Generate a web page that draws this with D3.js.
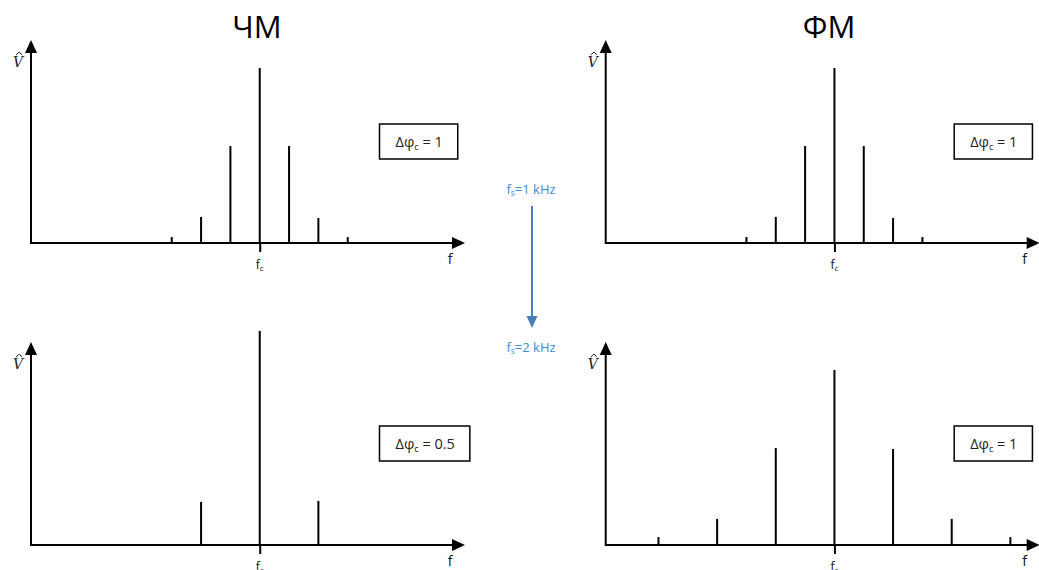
<!DOCTYPE html>
<html><head><meta charset="utf-8">
<script src="https://cdn.jsdelivr.net/npm/d3@7"></script>
<style>body{margin:0;background:#fff;} svg{display:block}</style>
</head><body><svg id="c" width="1039" height="570"></svg>
<script>
// ---- data ----
const columnTitles = ["ЧМ", "ФМ"];
const rateLabels = ["1 kHz", "2 kHz"];
const indexLabels = ["1", "1", "0.5", "1"];          // TL, TR, BL, BR
const offsetsFmTop = [-3, -2, -1, 0, 1, 2, 3];        // kHz from fc
const ampsFmTop    = [0.026, 0.115, 0.427, 0.771, 0.427, 0.11, 0.026];
const offsetsPmTop = [-3, -2, -1, 0, 1, 2, 3];
const ampsPmTop    = [0.026, 0.115, 0.427, 0.771, 0.427, 0.11, 0.026];
const offsetsFmBottom = [-2, 0, 2];
const ampsFmBottom    = [0.19, 0.943, 0.194];
const offsetsPmBottom = [-6, -4, -2, 0, 2, 4, 6];
const ampsPmBottom    = [0.035, 0.115, 0.427, 0.771, 0.423, 0.115, 0.035];
const xDomain = [-7.8, 7.0];
const yDomain = [0, 0.894];

// ---- layout ----
const svg = d3.select("#c");
const colX = [31, 605.7];
const rowY = [243, 545];
const axisLen = 434, yLen = 203;
const sans = "'Open Sans', 'Noto Sans', sans-serif";

const panels = [
  {c:0, r:0, off: offsetsFmTop, amp: ampsFmTop, lab: indexLabels[0]},
  {c:1, r:0, off: offsetsPmTop, amp: ampsPmTop, lab: indexLabels[1]},
  {c:0, r:1, off: offsetsFmBottom, amp: ampsFmBottom, lab: indexLabels[2]},
  {c:1, r:1, off: offsetsPmBottom, amp: ampsPmBottom, lab: indexLabels[3]},
];

panels.forEach(p => {
  const x0 = colX[p.c], base = rowY[p.r];
  const x = d3.scaleLinear().domain(xDomain).range([x0, x0 + axisLen]);
  const y = d3.scaleLinear().domain(yDomain).range([base, base - yLen]);
  const g = svg.append("g");

  // x axis with fc tick
  const xa = g.append("g").attr("transform", `translate(0,${base})`)
    .call(d3.axisBottom(x).tickValues([0]).tickSize(9).tickSizeOuter(0).tickFormat(""));
  xa.selectAll("path.domain").attr("d", `M${x0},0H${x0 + axisLen - 11}`).attr("stroke", "#000").attr("stroke-width", 2);
  xa.selectAll(".tick line").attr("stroke", "#000").attr("stroke-width", 2);
  xa.selectAll(".tick text").remove();
  const xt = x.range()[1];
  g.append("path").attr("d", `M${xt},${base}L${xt - 13},${base - 6}L${xt - 13},${base + 6}Z`).attr("fill", "#000");

  // y axis
  const ya = g.append("g").attr("transform", `translate(${x0},0)`)
    .call(d3.axisLeft(y).tickValues([]).tickSizeOuter(0));
  const yt = y.range()[1];
  ya.selectAll("path.domain").attr("d", `M0,${base + 1}V${yt + 10}`).attr("stroke", "#000").attr("stroke-width", 2);
  g.append("path").attr("d", `M${x0},${yt}L${x0 - 6},${yt + 13}L${x0 + 6},${yt + 13}Z`).attr("fill", "#000");

  // spectral lines
  g.selectAll("line.sp").data(p.off.map((o, i) => ({o, a: p.amp[i]}))).join("line")
    .attr("class", "sp")
    .attr("x1", d => x(d.o)).attr("x2", d => x(d.o))
    .attr("y1", y(0)).attr("y2", d => y(d.a))
    .attr("stroke", "#000").attr("stroke-width", 2);

  // V-hat label
  const vx = x0 - 13, vy = base - 176;
  g.append("text").attr("x", vx).attr("y", vy).attr("text-anchor", "middle")
    .attr("font-family", "'DejaVu Serif', 'Liberation Serif', serif").attr("font-style", "italic")
    .attr("font-size", 14).attr("fill", "#222").text("V");
  g.append("path").attr("d", `M${vx - 2},${vy - 12}L${vx + 1.5},${vy - 15}L${vx + 4},${vy - 12}`)
    .attr("fill", "none").attr("stroke", "#222").attr("stroke-width", 1);

  // f label
  g.append("text").attr("x", x0 + 419).attr("y", base + 21).attr("text-anchor", "middle")
    .attr("font-family", sans).attr("font-size", 14).attr("fill", "#111").text("f");

  // fc label
  const fc = g.append("text").attr("x", x(0)).attr("y", base + 26).attr("text-anchor", "middle")
    .attr("font-family", sans).attr("font-size", 12).attr("fill", "#111");
  fc.append("tspan").text("f");
  fc.append("tspan").attr("font-size", 8).attr("dy", 2).text("c");

  // index box
  const bx = x0 + 348.5, by = base - 119, bh = 35, pad = 16;
  const t = g.append("text").attr("x", bx + pad).attr("y", by + 23)
    .attr("font-family", sans).attr("font-size", 14.5).attr("fill", "#222");
  t.append("tspan").text("Δφ");
  t.append("tspan").attr("font-size", 9).attr("dy", 3).text("c");
  t.append("tspan").attr("dy", -3).text(" = " + p.lab);
  const w = t.node().getComputedTextLength();
  g.insert("rect", () => t.node()).attr("x", bx).attr("y", by).attr("width", w + 2 * pad - 1).attr("height", bh)
    .attr("fill", "#fff").attr("stroke", "#000").attr("stroke-width", 1.5);
});

// column titles
columnTitles.forEach((tt, i) => {
  svg.append("text").attr("x", [257, 829][i]).attr("y", 38).attr("text-anchor", "middle")
    .attr("font-family", sans).attr("font-size", 31).attr("fill", "#000").text(tt);
});

// rate labels and arrow
const blue = "#3d8bd0";
rateLabels.forEach((r, i) => {
  const t = svg.append("text").attr("x", 531).attr("y", [194, 352][i]).attr("text-anchor", "middle")
    .attr("font-family", sans).attr("font-size", 13).attr("fill", blue);
  t.append("tspan").text("f");
  t.append("tspan").attr("font-size", 8.5).attr("dy", 2).text("s");
  t.append("tspan").attr("dy", -2).text("=" + r);
});
svg.append("line").attr("x1", 532).attr("x2", 532).attr("y1", 206).attr("y2", 318)
  .attr("stroke", "#4a7ebb").attr("stroke-width", 2);
svg.append("path").attr("d", "M532,328L526.5,316L537.5,316Z").attr("fill", "#4a7ebb");
</script></body></html>
